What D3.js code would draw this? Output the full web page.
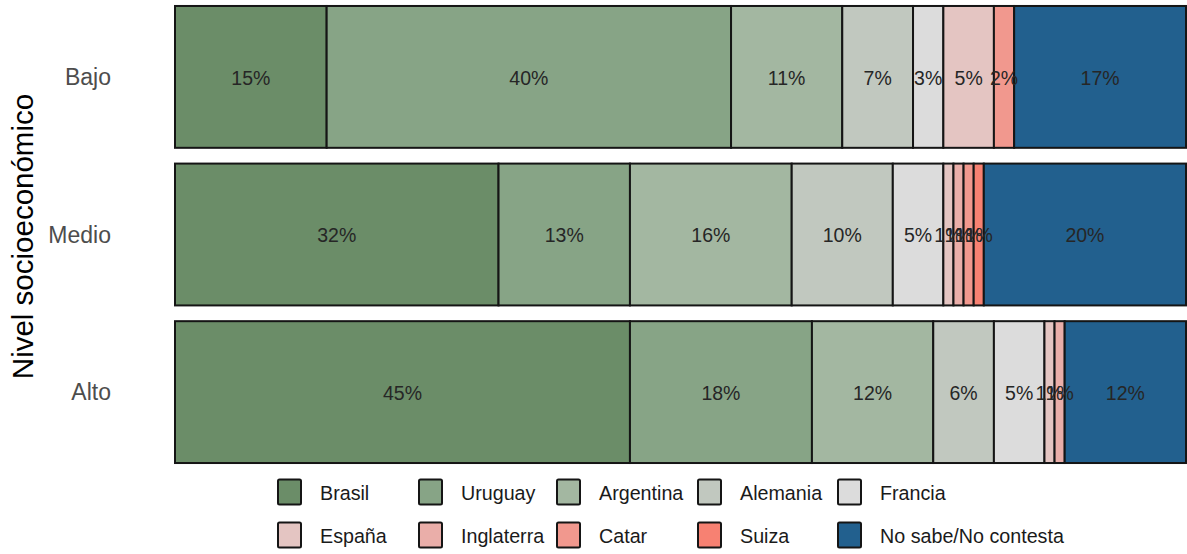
<!DOCTYPE html>
<html>
<head>
<meta charset="utf-8">
<script src="https://cdn.jsdelivr.net/npm/d3@7"></script>
<style>
  html, body { margin: 0; padding: 0; background: #fff; }
  svg { display: block; font-family: "Liberation Sans", Arial, sans-serif; }
</style>
</head>
<body>
<svg id="chart" width="1187" height="554"></svg>
<script>
// ---- data ----
const levels = ["Bajo", "Medio", "Alto"];
const countries = ["Brasil", "Uruguay", "Argentina", "Alemania", "Francia",
                   "España", "Inglaterra", "Catar", "Suiza", "No sabe/No contesta"];
const bajoValues  = [15, 40, 11, 7, 3, 5, 0, 2, 0, 17];
const medioValues = [32, 13, 16, 10, 5, 1, 1, 1, 1, 20];
const altoValues  = [45, 18, 12, 6, 5, 1, 1, 0, 0, 12];
const countryColors = ["#6b8d68", "#87a486", "#a3b7a1", "#c1c8bf", "#dcdcdc",
                       "#e4c5c2", "#eaaea9", "#f1988e", "#f78172", "#22608e"];
const axisTitle = "Nivel socioeconómico";

const valuesByLevel = { "Bajo": bajoValues, "Medio": medioValues, "Alto": altoValues };

// ---- layout ----
const svg = d3.select("#chart");
const x = d3.scaleLinear().domain([0, 100]).range([175, 1186]);
const y = d3.scaleBand().domain(levels).range([-1.9, 470.9]).paddingInner(0.1).paddingOuter(0.05);
const color = d3.scaleOrdinal().domain(countries).range(countryColors);

// build stacked segments
const segs = [];
levels.forEach(lv => {
  let cum = 0;
  valuesByLevel[lv].forEach((v, i) => {
    if (v > 0) segs.push({ level: lv, country: countries[i], start: cum, end: cum + v, value: v });
    cum += v;
  });
});

const g = svg.append("g");
g.selectAll("rect.seg").data(segs).join("rect")
  .attr("class", "seg")
  .attr("x", d => x(d.start))
  .attr("y", d => y(d.level))
  .attr("width", d => x(d.end) - x(d.start))
  .attr("height", y.bandwidth())
  .attr("fill", d => color(d.country))
  .attr("stroke", "#151515")
  .attr("stroke-width", 2);

g.selectAll("text.lab").data(segs).join("text")
  .attr("class", "lab")
  .attr("x", d => (x(d.start) + x(d.end)) / 2)
  .attr("y", d => y(d.level) + y.bandwidth() / 2 + 1)
  .attr("dy", "0.35em")
  .attr("text-anchor", "middle")
  .attr("font-size", 19.5)
  .attr("fill", "#262626")
  .text(d => d.value + "%");

// y axis labels
const yAxis = d3.axisLeft(y).tickSize(0).tickPadding(0);
const ya = svg.append("g").attr("transform", "translate(111,1)").call(yAxis);
ya.select(".domain").remove();
ya.selectAll("text").attr("font-size", 23).attr("fill", "#4d4d4d")
  .attr("font-family", "'Liberation Sans', Arial, sans-serif");

// axis title
svg.append("text")
  .attr("transform", "translate(33," + ((y("Bajo") + y("Alto") + y.bandwidth()) / 2 + 2) + ") rotate(-90)")
  .attr("text-anchor", "middle")
  .attr("font-size", 29.5)
  .attr("fill", "#000")
  .text(axisTitle);

// legend
const colX = [277, 418, 556, 697, 837];
const rowY = [492, 535];
const leg = svg.append("g");
countries.forEach((c, i) => {
  const col = i % 5, row = Math.floor(i / 5);
  const gx = colX[col], gy = rowY[row];
  leg.append("rect")
    .attr("x", gx + 1).attr("y", gy - 12.5)
    .attr("width", 23).attr("height", 25)
    .attr("rx", 1.5)
    .attr("fill", color(c))
    .attr("stroke", "#151515").attr("stroke-width", 2);
  leg.append("text")
    .attr("x", gx + 43).attr("y", gy + 1)
    .attr("dy", "0.35em")
    .attr("font-size", 19.7)
    .attr("fill", "#1a1a1a")
    .text(c);
});
</script>
</body>
</html>
